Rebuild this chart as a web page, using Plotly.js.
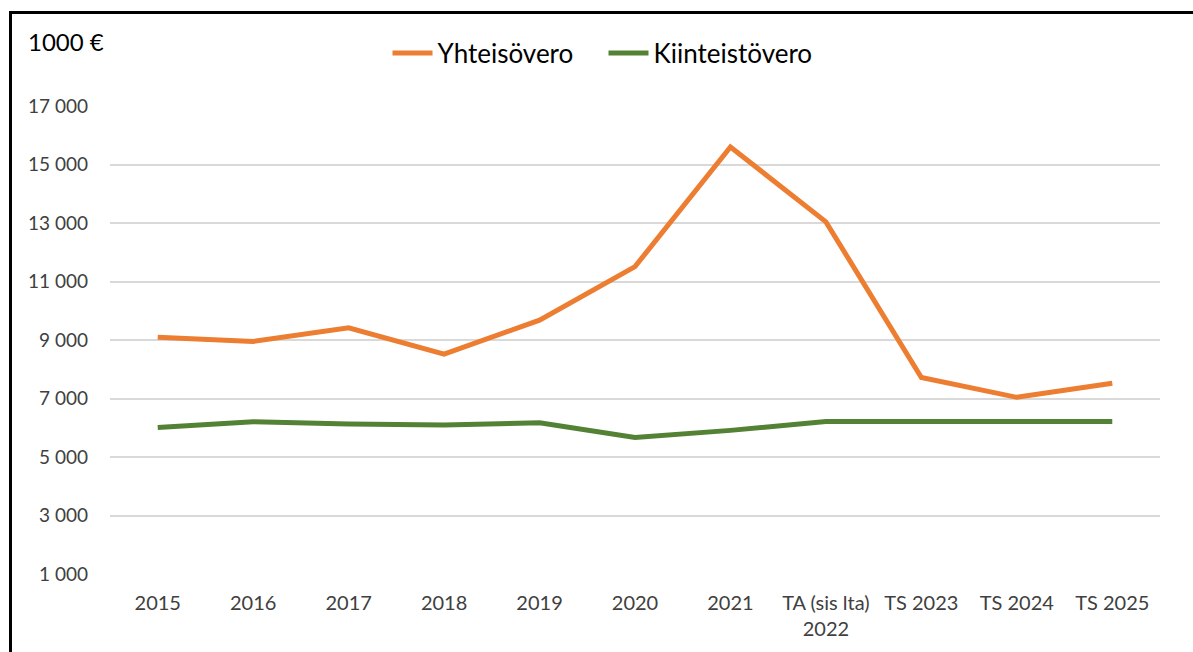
<!DOCTYPE html>
<html>
<head>
<meta charset="utf-8">
<script src="https://cdn.plot.ly/plotly-3.0.1.min.js"></script>
<style>
html,body{margin:0;padding:0;background:#fff;overflow:hidden;}
#wrap{position:relative;width:1193px;height:652px;}
#chart{position:absolute;left:0;top:0;width:1193px;height:652px;}
#frame{position:absolute;left:9px;top:11px;width:1200px;height:700px;border:3px solid #000;box-sizing:border-box;pointer-events:none;}
</style>
</head>
<body>
<div id="wrap"><div id="chart"></div><div id="frame"></div></div>
<script>
const categories = ["2015","2016","2017","2018","2019","2020","2021","TA (sis lta)<br>2022","TS 2023","TS 2024","TS 2025"];
const yhteisovero = [9090, 8950, 9420, 8520, 9680, 11510, 15600, 13040, 7720, 7040, 7520];
const kiinteistovero = [6010, 6205, 6125, 6090, 6170, 5670, 5910, 6210, 6210, 6210, 6210];
const seriesNames = ["Yhteisövero", "Kiinteistövero"];
const yTicks = [1000, 3000, 5000, 7000, 9000, 11000, 13000, 15000, 17000];
const unitLabel = "1000 €";

const fontFam = "Lato, 'Open Sans', sans-serif";
const traces = [
  {x: categories, y: yhteisovero, name: seriesNames[0], type: "scatter", mode: "lines",
   line: {color: "#ED7D31", width: 5}},
  {x: categories, y: kiinteistovero, name: seriesNames[1], type: "scatter", mode: "lines",
   line: {color: "#548235", width: 5}}
];
const layout = {
  width: 1193, height: 652,
  margin: {l: 110, r: 33, t: 106, b: 78},
  paper_bgcolor: "rgba(0,0,0,0)", plot_bgcolor: "#fff",
  separators: ", ",
  font: {family: fontFam, color: "#404040", size: 19},
  showlegend: true,
  legend: {orientation: "h", x: 0.47, xanchor: "center", y: 1.113, yanchor: "middle",
           font: {size: 26, color: "#000"}, itemwidth: 40, tracegroupgap: 0,
           entrywidth: 161, entrywidthmode: "pixels"},
  xaxis: {type: "category", range: [-0.5, 10.5], showgrid: false, showline: false, zeroline: false,
          ticks: "", tickfont: {size: 20, color: "#404040"}, ticklabelstandoff: 15, fixedrange: true},
  yaxis: {range: [1000, 17000], tickvals: yTicks, tickformat: ",d", showgrid: true,
          gridcolor: "#d9d9d9", gridwidth: 2, zeroline: false, showline: false, ticks: "",
          tickfont: {size: 19, color: "#404040"}, ticklabelstandoff: 21, fixedrange: true},
  annotations: [{text: unitLabel, xref: "paper", yref: "paper", x: -0.08, y: 1.137,
                 xanchor: "left", yanchor: "middle", showarrow: false,
                 font: {size: 24, color: "#000", family: fontFam}}]
};
Plotly.newPlot("chart", traces, layout, {staticPlot: true, displayModeBar: false});
</script>
</body>
</html>
